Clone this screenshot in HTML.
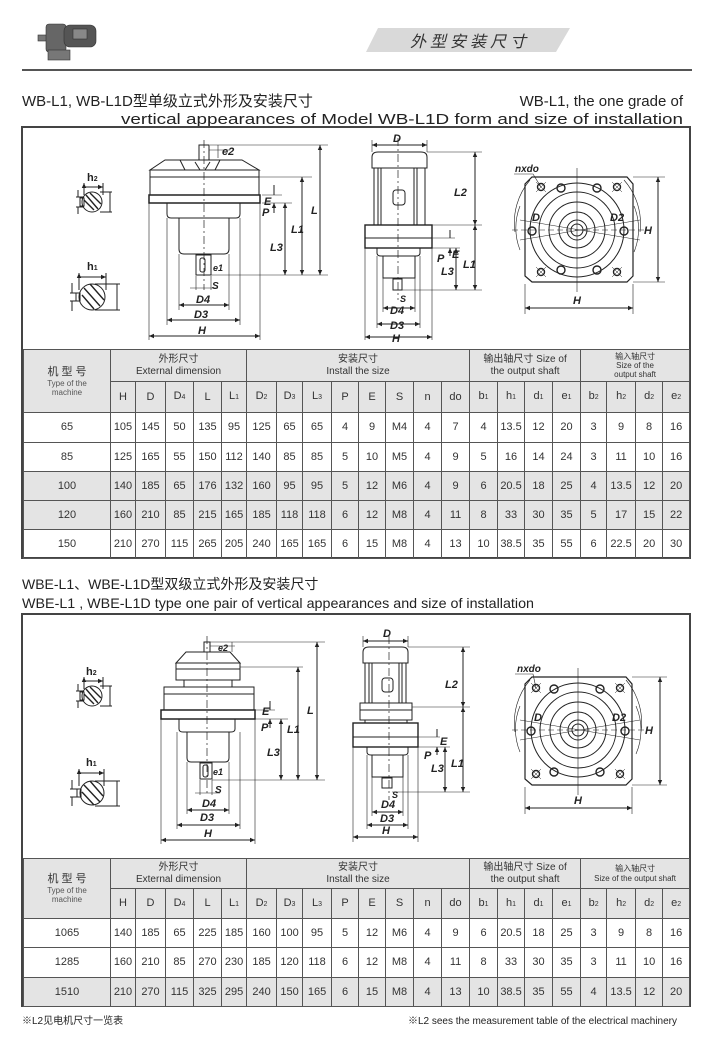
<!DOCTYPE html>
<html><head><meta charset="utf-8">
<style>
html,body{margin:0;padding:0;background:#fff;}
body{width:710px;height:1050px;position:relative;overflow:hidden;font-family:"Liberation Sans","Noto Sans CJK SC",sans-serif;color:#222;}
.abs{position:absolute;}
table{border-collapse:collapse;table-layout:fixed;position:absolute;left:23px;width:666px;font-size:11px;color:#333;}
td{border:1px solid #555;text-align:center;padding:0;line-height:11px;overflow:hidden;white-space:nowrap;}
tr.g td{background:#e4e4e4;}
td.g{background:#e4e4e4;}
.s{font-size:7px;}
.hd{font-size:10px;line-height:12px;}
.tm{font-size:8px;line-height:9px;color:#555;}
</style></head><body>

<!-- header line & pill -->
<div class="abs" style="left:22px;top:69px;width:670px;height:2px;background:#555"></div>
<svg class="abs" style="left:0;top:0" width="710" height="1050" viewBox="0 0 710 1050">
<defs>
<marker id="a" markerWidth="6" markerHeight="6" refX="5" refY="3" orient="auto-start-reverse"><path d="M0,0.8 L5,3 L0,5.2z" fill="#222"/></marker>
</defs>
<!-- motor icon -->
<g fill="#555" stroke="#333" stroke-width="0.6">
<rect x="38" y="35" width="10" height="6" fill="#777"/>
<rect x="46" y="24" width="20" height="28" rx="3" fill="#666"/>
<rect x="64" y="25" width="32" height="22" rx="6" fill="#555"/>
<rect x="48" y="50" width="22" height="10" fill="#777"/>
<rect x="73" y="29" width="14" height="10" fill="#888"/>
</g>
<path d="M378,28 L570,28 L556,52 L366,52 Z" fill="#d9d9d9"/>
<text x="470" y="47" font-size="16" font-style="italic" text-anchor="middle" fill="#333" font-family="Liberation Sans,Noto Sans CJK SC,sans-serif" letter-spacing="4">外型安装尺寸</text>

<!-- titles -->
<g font-family="Liberation Sans,Noto Sans CJK SC,sans-serif" fill="#222" font-size="15">
<text x="22" y="106">WB-L1, WB-L1D型单级立式外形及安装尺寸</text>
<text x="683" y="106" text-anchor="end">WB-L1, the one grade of</text>
<text x="121" y="124" textLength="562" lengthAdjust="spacingAndGlyphs">vertical appearances of Model WB-L1D form and size of installation</text>
<text x="22" y="589" font-size="14">WBE-L1、WBE-L1D型双级立式外形及安装尺寸</text>
<text x="22" y="608" font-size="14" textLength="512" lengthAdjust="spacingAndGlyphs">WBE-L1 , WBE-L1D type one pair of vertical appearances and size of installation</text>
<text x="22" y="1024" font-size="10">※L2见电机尺寸一览表</text>
<text x="677" y="1024" font-size="10" text-anchor="end">※L2 sees the measurement table of the electrical machinery</text>
</g>

<!-- boxes -->
<rect x="22" y="127" width="668" height="431" fill="none" stroke="#444" stroke-width="2"/>
<rect x="22" y="614" width="668" height="392" fill="none" stroke="#444" stroke-width="2"/>

<g fill="none" stroke="#222" stroke-width="1">
<!-- ===== Section 1 shaft sections ===== -->
<circle cx="92" cy="202" r="10"/><path d="M86,195 L98,209 M84,200 L94,210 M90,193 L101,204" stroke-width="1.4"/>
<rect x="80" y="198" width="4" height="8"/>
<path d="M84,183 L84,195 M103,183 L103,195 M84,187 L103,187" marker-start="url(#a)" marker-end="url(#a)"/>
<path d="M76,197 L84,197 M76,207 L84,207 M78,190 L78,197 M78,214 L78,207"/>
<path d="M100,192 L112,192 M100,212 L112,212 M110,192 L110,212"/>
<circle cx="92" cy="297" r="13"/><path d="M84,288 L100,306 M82,295 L94,309 M90,284 L104,300" stroke-width="1.4"/>
<rect x="76" y="293" width="4" height="8"/>
<path d="M79,273 L79,290 M106,273 L106,290 M79,277 L106,277" marker-start="url(#a)" marker-end="url(#a)"/>
<path d="M70,293 L80,293 M70,301 L80,301 M72,283 L72,293 M72,311 L72,301"/>
<path d="M95,284 L120,284 M95,310 L120,310 M117,284 L117,310"/>

<!-- ===== Section 1 main drawing ===== -->
<line x1="204" y1="140" x2="204" y2="290" stroke-dasharray="8,3,2,3" stroke-width="0.7"/>
<rect x="199" y="145" width="10" height="15"/>
<path d="M165,160 L242,160 L259,170 L150,170 Z"/>
<path d="M180,160 L185,170 M220,160 L215,170 M195,162 L200,170 M210,162 L205,170"/>
<rect x="150" y="170" width="109" height="25"/><line x1="150" y1="177" x2="259" y2="177"/>
<rect x="149" y="195" width="111" height="8" stroke-width="1.5"/>
<path d="M167,203 L167,214 Q167,218 171,218 L236,218 Q240,218 240,214 L240,203"/>
<path d="M179,218 L179,249 Q179,254 184,254 L224,254 Q229,254 229,249 L229,218"/>
<rect x="196" y="255" width="15" height="20"/><rect x="200" y="258" width="5" height="14" rx="2"/>
<!-- extension/dim lines -->
<path d="M210,145 L328,145 M259,177 L312,177 M262,195 L282,195 M262,203 L292,203 M211,275 L328,275" stroke-width="0.6"/>
<path d="M209,150 L230,150 M218,145 L218,158" stroke-width="0.6"/>
<line x1="320" y1="145" x2="320" y2="275" marker-start="url(#a)" marker-end="url(#a)"/>
<line x1="302" y1="177" x2="302" y2="275" marker-start="url(#a)" marker-end="url(#a)"/>
<line x1="285" y1="203" x2="285" y2="275" marker-start="url(#a)" marker-end="url(#a)"/>
<path d="M274,185 L274,195 M274,213 L274,203" marker-end="url(#a)"/>
<path d="M179,254 L179,310 M229,254 L229,310 M167,218 L167,325 M240,218 L240,325 M149,203 L149,340 M260,203 L260,340" stroke-width="0.6"/>
<line x1="179" y1="305" x2="229" y2="305" marker-start="url(#a)" marker-end="url(#a)"/>
<line x1="167" y1="320" x2="240" y2="320" marker-start="url(#a)" marker-end="url(#a)"/>
<line x1="149" y1="336" x2="260" y2="336" marker-start="url(#a)" marker-end="url(#a)"/>
<path d="M196,276 L196,290 M211,276 L211,290 M190,288 L218,288" stroke-width="0.6"/>

<!-- ===== Section 1 middle ===== -->
<line x1="398" y1="138" x2="398" y2="300" stroke-dasharray="8,3,2,3" stroke-width="0.7"/>
<path d="M372,168 L372,157 Q372,152 378,152 L421,152 Q427,152 427,157 L427,168 Z"/>
<rect x="374" y="168" width="51" height="57"/>
<path d="M378,168 L378,225 M381,168 L381,225 M414,168 L414,225 M417,168 L417,225"/>
<rect x="393" y="190" width="12" height="15" rx="3"/>
<rect x="365" y="225" width="67" height="23" stroke-width="1.4"/><line x1="365" y1="238" x2="432" y2="238"/>
<path d="M377,248 L377,253 Q377,256 381,256 L416,256 Q420,256 420,253 L420,248"/>
<rect x="383" y="256" width="32" height="22"/>
<rect x="393" y="279" width="9" height="11"/>
<path d="M372,152 L372,140 M427,152 L427,140" stroke-width="0.6"/>
<line x1="372" y1="145" x2="427" y2="145" marker-start="url(#a)" marker-end="url(#a)"/>
<path d="M427,152 L482,152 M432,225 L482,225 M402,290 L482,290 M432,238 L455,238 M420,248 L460,248" stroke-width="0.6"/>
<line x1="475" y1="152" x2="475" y2="225" marker-start="url(#a)" marker-end="url(#a)"/>
<line x1="475" y1="225" x2="475" y2="290" marker-start="url(#a)" marker-end="url(#a)"/>
<line x1="456" y1="248" x2="456" y2="290" marker-start="url(#a)" marker-end="url(#a)"/>
<path d="M450,230 L450,238 M450,256 L450,248" marker-end="url(#a)"/>
<path d="M383,278 L383,312 M415,278 L415,312 M377,256 L377,328 M420,256 L420,328 M365,248 L365,340 M432,248 L432,340" stroke-width="0.6"/>
<line x1="383" y1="308" x2="415" y2="308" marker-start="url(#a)" marker-end="url(#a)"/>
<line x1="377" y1="324" x2="420" y2="324" marker-start="url(#a)" marker-end="url(#a)"/>
<line x1="365" y1="337" x2="432" y2="337" marker-start="url(#a)" marker-end="url(#a)"/>

<!-- ===== Section 1 plan view ===== -->
<path d="M532,177 L627,177 L633,184 L633,276 L627,282 L532,282 L525,276 L525,184 Z" stroke-width="1.2"/>
<line x1="577" y1="168" x2="577" y2="292" stroke-width="0.6"/>
<line x1="512" y1="230" x2="645" y2="230" stroke-width="0.6" stroke-dasharray="6,3"/>
<circle cx="577" cy="230" r="47"/><circle cx="577" cy="230" r="38"/><circle cx="577" cy="230" r="28"/><circle cx="577" cy="230" r="18"/><circle cx="577" cy="230" r="10"/><circle cx="577" cy="230" r="6"/>
<path d="M520,250 A60,60 0 0 1 520,206 M634,206 A60,60 0 0 1 634,252 M530,180 A66,66 0 0 0 515,232 M624,180 A66,66 0 0 1 640,232" stroke-width="0.6"/>
<g stroke-width="1.4">
<circle cx="541" cy="187" r="3.5"/><circle cx="561" cy="188" r="4"/><circle cx="597" cy="188" r="4"/><circle cx="617" cy="187" r="3.5"/>
<circle cx="532" cy="231" r="4"/><circle cx="624" cy="231" r="4"/>
<circle cx="541" cy="272" r="3.5"/><circle cx="561" cy="270" r="4"/><circle cx="597" cy="270" r="4"/><circle cx="617" cy="272" r="3.5"/>
</g>
<path d="M536,182 L546,192 M546,182 L536,192 M612,182 L622,192 M622,182 L612,192 M536,267 L546,277 M546,267 L536,277 M612,267 L622,277 M622,267 L612,277" stroke-width="0.5"/>
<path d="M520,220 L640,240 M520,240 L640,220" stroke-width="0.5"/>
<path d="M514,174 L533,174 L541,187" stroke-width="0.6"/>
<path d="M633,177 L665,177 M633,282 L665,282 M525,284 L525,314 M633,284 L633,314" stroke-width="0.6"/>
<line x1="658" y1="177" x2="658" y2="282" marker-start="url(#a)" marker-end="url(#a)"/>
<line x1="525" y1="308" x2="633" y2="308" marker-start="url(#a)" marker-end="url(#a)"/>

<!-- ===== Section 2 shaft sections ===== -->
<circle cx="92" cy="696" r="10"/><path d="M86,689 L98,703 M84,694 L94,704 M90,687 L101,698" stroke-width="1.4"/>
<rect x="80" y="692" width="4" height="8"/>
<path d="M84,677 L84,689 M103,677 L103,689 M84,681 L103,681" marker-start="url(#a)" marker-end="url(#a)"/>
<path d="M76,691 L84,691 M76,701 L84,701 M78,684 L78,691 M78,708 L78,701"/>
<path d="M100,686 L112,686 M100,706 L112,706 M110,686 L110,706"/>
<circle cx="92" cy="793" r="12"/><path d="M84,785 L100,802 M82,792 L94,805 M90,781 L103,796" stroke-width="1.4"/>
<rect x="77" y="789" width="4" height="8"/>
<path d="M79,769 L79,786 M104,769 L104,786 M79,773 L104,773" marker-start="url(#a)" marker-end="url(#a)"/>
<path d="M70,789 L80,789 M70,797 L80,797 M72,780 L72,789 M72,806 L72,797"/>
<path d="M95,781 L120,781 M95,806 L120,806 M117,781 L117,806"/>

<!-- ===== Section 2 main ===== -->
<line x1="207" y1="636" x2="207" y2="795" stroke-dasharray="8,3,2,3" stroke-width="0.7"/>
<rect x="204" y="642" width="6" height="10"/>
<path d="M186,652 L230,652 L240,663 L176,663 Z"/>
<rect x="176" y="663" width="64" height="17"/><line x1="176" y1="669" x2="240" y2="669"/>
<rect x="184" y="680" width="48" height="7"/>
<rect x="164" y="687" width="90" height="23"/><line x1="164" y1="694" x2="254" y2="694"/>
<rect x="161" y="710" width="94" height="9" stroke-width="1.5"/>
<path d="M179,719 L179,729 Q179,732 183,732 L231,732 Q235,732 235,729 L235,719"/>
<path d="M187,732 L187,758 Q187,762 191,762 L225,762 Q229,762 229,758 L229,732"/>
<rect x="200" y="763" width="12" height="16"/><rect x="203" y="765" width="5" height="12" rx="2"/>
<path d="M210,642 L325,642 M240,667 L303,667 M255,710 L275,710 M255,719 L288,719 M212,780 L325,780 M210,646 L235,646 M232,642 L232,652" stroke-width="0.6"/>
<line x1="317" y1="642" x2="317" y2="780" marker-start="url(#a)" marker-end="url(#a)"/>
<line x1="298" y1="667" x2="298" y2="780" marker-start="url(#a)" marker-end="url(#a)"/>
<line x1="281" y1="719" x2="281" y2="780" marker-start="url(#a)" marker-end="url(#a)"/>
<path d="M270,701 L270,710 M270,728 L270,719" marker-end="url(#a)"/>
<path d="M187,762 L187,814 M229,762 L229,814 M177,732 L177,829 M240,732 L240,829 M161,719 L161,844 M255,719 L255,844" stroke-width="0.6"/>
<line x1="187" y1="810" x2="229" y2="810" marker-start="url(#a)" marker-end="url(#a)"/>
<line x1="177" y1="825" x2="240" y2="825" marker-start="url(#a)" marker-end="url(#a)"/>
<line x1="161" y1="840" x2="255" y2="840" marker-start="url(#a)" marker-end="url(#a)"/>
<path d="M200,780 L200,795 M212,780 L212,795 M195,793 L220,793" stroke-width="0.6"/>

<!-- ===== Section 2 middle ===== -->
<line x1="389" y1="636" x2="389" y2="800" stroke-dasharray="8,3,2,3" stroke-width="0.7"/>
<path d="M363,663 L363,652 Q363,647 369,647 L402,647 Q408,647 408,652 L408,663 Z"/>
<rect x="365" y="663" width="41" height="40"/>
<path d="M369,663 L369,703 M372,663 L372,703 M399,663 L399,703 M402,663 L402,703"/>
<rect x="382" y="678" width="11" height="14" rx="3"/>
<rect x="360" y="703" width="52" height="17"/><line x1="360" y1="710" x2="412" y2="710"/>
<rect x="365" y="720" width="42" height="3"/>
<rect x="353" y="723" width="65" height="24" stroke-width="1.4"/><line x1="353" y1="737" x2="418" y2="737"/>
<path d="M367,747 L367,752 Q367,755 371,755 L404,755 Q408,755 408,752 L408,747"/>
<rect x="372" y="755" width="31" height="22"/>
<rect x="382" y="778" width="10" height="10"/>
<path d="M363,647 L363,636 M408,647 L408,636" stroke-width="0.6"/>
<line x1="363" y1="641" x2="408" y2="641" marker-start="url(#a)" marker-end="url(#a)"/>
<path d="M408,647 L470,647 M412,707 L470,707 M392,792 L470,792 M418,737 L440,737 M408,747 L450,747" stroke-width="0.6"/>
<line x1="463" y1="647" x2="463" y2="707" marker-start="url(#a)" marker-end="url(#a)"/>
<line x1="463" y1="707" x2="463" y2="792" marker-start="url(#a)" marker-end="url(#a)"/>
<line x1="445" y1="747" x2="445" y2="792" marker-start="url(#a)" marker-end="url(#a)"/>
<path d="M437,729 L437,737 M437,755 L437,747" marker-end="url(#a)"/>
<path d="M372,777 L372,816 M403,777 L403,816 M367,755 L367,829 M408,755 L408,829 M353,747 L353,842 M418,747 L418,842" stroke-width="0.6"/>
<line x1="372" y1="812" x2="403" y2="812" marker-start="url(#a)" marker-end="url(#a)"/>
<line x1="367" y1="825" x2="408" y2="825" marker-start="url(#a)" marker-end="url(#a)"/>
<line x1="353" y1="837" x2="418" y2="837" marker-start="url(#a)" marker-end="url(#a)"/>

<!-- ===== Section 2 plan ===== -->
<path d="M532,677 L626,677 L632,684 L632,779 L626,785 L532,785 L525,779 L525,684 Z" stroke-width="1.2"/>
<line x1="578" y1="668" x2="578" y2="795" stroke-width="0.6"/>
<line x1="512" y1="730" x2="645" y2="730" stroke-width="0.6" stroke-dasharray="6,3"/>
<circle cx="578" cy="730" r="47"/><circle cx="578" cy="730" r="38"/><circle cx="578" cy="730" r="28"/><circle cx="578" cy="730" r="18"/><circle cx="578" cy="730" r="10"/><circle cx="578" cy="730" r="6"/>
<path d="M520,752 A60,60 0 0 1 520,706 M636,706 A60,60 0 0 1 636,754 M530,680 A66,66 0 0 0 515,732 M626,680 A66,66 0 0 1 641,732" stroke-width="0.6"/>
<g stroke-width="1.4">
<circle cx="536" cy="688" r="3.5"/><circle cx="554" cy="689" r="4"/><circle cx="600" cy="689" r="4"/><circle cx="620" cy="688" r="3.5"/>
<circle cx="531" cy="731" r="4"/><circle cx="625" cy="731" r="4"/>
<circle cx="536" cy="774" r="3.5"/><circle cx="554" cy="772" r="4"/><circle cx="600" cy="772" r="4"/><circle cx="620" cy="774" r="3.5"/>
</g>
<path d="M531,683 L541,693 M541,683 L531,693 M615,683 L625,693 M625,683 L615,693 M531,769 L541,779 M541,769 L531,779 M615,769 L625,779 M625,769 L615,779" stroke-width="0.5"/>
<path d="M520,720 L640,740 M520,740 L640,720" stroke-width="0.5"/>
<path d="M515,674 L533,674 L536,688" stroke-width="0.6"/>
<path d="M632,677 L667,677 M632,785 L667,785 M525,787 L525,814 M632,787 L632,814" stroke-width="0.6"/>
<line x1="660" y1="677" x2="660" y2="785" marker-start="url(#a)" marker-end="url(#a)"/>
<line x1="525" y1="808" x2="632" y2="808" marker-start="url(#a)" marker-end="url(#a)"/>
</g>

<!-- dimension labels -->
<g font-family="Liberation Sans,sans-serif" font-size="11" font-weight="bold" font-style="italic" fill="#222">
<text x="87" y="181" font-style="normal">h<tspan font-size="7">2</tspan></text>
<text x="87" y="270" font-style="normal">h<tspan font-size="7">1</tspan></text>
<text x="222" y="155">e2</text>
<text x="311" y="214">L</text><text x="291" y="233">L1</text><text x="270" y="251">L3</text>
<text x="264" y="205">E</text><text x="262" y="216">P</text>
<text x="213" y="271" font-size="9">e1</text>
<text x="212" y="289" font-size="10">S</text>
<text x="196" y="303">D4</text><text x="194" y="318">D3</text><text x="198" y="334">H</text>
<text x="393" y="142">D</text><text x="454" y="196">L2</text>
<text x="452" y="258">E</text><text x="437" y="262">P</text><text x="463" y="268">L1</text><text x="441" y="275">L3</text>
<text x="400" y="302" font-size="9">S</text>
<text x="390" y="314">D4</text><text x="390" y="329">D3</text><text x="392" y="342">H</text>
<text x="515" y="172" font-size="10">nxdo</text>
<text x="532" y="221">D</text><text x="610" y="221">D2</text><text x="644" y="234">H</text><text x="573" y="304">H</text>
<text x="86" y="675" font-style="normal">h<tspan font-size="7">2</tspan></text>
<text x="86" y="766" font-style="normal">h<tspan font-size="7">1</tspan></text>
<text x="218" y="651" font-size="9">e2</text>
<text x="307" y="714">L</text><text x="287" y="733">L1</text><text x="267" y="756">L3</text>
<text x="262" y="715">E</text><text x="261" y="731">P</text>
<text x="213" y="775" font-size="9">e1</text><text x="215" y="793" font-size="10">S</text>
<text x="202" y="807">D4</text><text x="200" y="821">D3</text><text x="204" y="837">H</text>
<text x="383" y="637">D</text><text x="445" y="688">L2</text>
<text x="440" y="745">E</text><text x="424" y="759">P</text><text x="451" y="767">L1</text><text x="431" y="772">L3</text>
<text x="392" y="798" font-size="9">S</text>
<text x="381" y="808">D4</text><text x="380" y="822">D3</text><text x="382" y="834">H</text>
<text x="517" y="672" font-size="10">nxdo</text>
<text x="534" y="721">D</text><text x="612" y="721">D2</text><text x="645" y="734">H</text><text x="574" y="804">H</text>
</g>
</svg>

<!-- Table 1 -->
<table style="top:349px;">
<colgroup><col style="width:87px"><col style="width:25px"><col style="width:30px"><col style="width:28px"><col style="width:28px"><col style="width:25px"><col style="width:30px"><col style="width:26px"><col style="width:29px"><col style="width:27px"><col style="width:27px"><col style="width:28px"><col style="width:28px"><col style="width:28px"><col style="width:28px"><col style="width:27px"><col style="width:28px"><col style="width:28px"><col style="width:26px"><col style="width:29px"><col style="width:27px"><col style="width:27px"></colgroup>
<tr class="g" style="height:32px"><td rowspan="2"><div style="font-size:11px;line-height:13px">机 型 号</div><div class="tm">Type of the<br>machine</div></td><td colspan="5" class="hd">外形尺寸<br>External dimension</td><td colspan="8" class="hd">安装尺寸<br>Install the size</td><td colspan="4" class="hd">输出轴尺寸 Size of<br>the output shaft</td><td colspan="4" class="hd" style="font-size:8px;line-height:9px">输入轴尺寸<br>Size of the<br>output shaft</td></tr>
<tr class="g" style="height:31px"><td>H</td><td>D</td><td>D<span class="s">4</span></td><td>L</td><td>L<span class="s">1</span></td><td>D<span class="s">2</span></td><td>D<span class="s">3</span></td><td>L<span class="s">3</span></td><td>P</td><td>E</td><td>S</td><td>n</td><td>do</td><td>b<span class="s">1</span></td><td>h<span class="s">1</span></td><td>d<span class="s">1</span></td><td>e<span class="s">1</span></td><td>b<span class="s">2</span></td><td>h<span class="s">2</span></td><td>d<span class="s">2</span></td><td>e<span class="s">2</span></td></tr>
<tr style="height:30px"><td>65</td><td>105</td><td>145</td><td>50</td><td>135</td><td>95</td><td>125</td><td>65</td><td>65</td><td>4</td><td>9</td><td>M4</td><td>4</td><td>7</td><td>4</td><td>13.5</td><td>12</td><td>20</td><td>3</td><td>9</td><td>8</td><td>16</td></tr>
<tr style="height:29px"><td>85</td><td>125</td><td>165</td><td>55</td><td>150</td><td>112</td><td>140</td><td>85</td><td>85</td><td>5</td><td>10</td><td>M5</td><td>4</td><td>9</td><td>5</td><td>16</td><td>14</td><td>24</td><td>3</td><td>11</td><td>10</td><td>16</td></tr>
<tr class="g" style="height:29px"><td>100</td><td>140</td><td>185</td><td>65</td><td>176</td><td>132</td><td>160</td><td>95</td><td>95</td><td>5</td><td>12</td><td>M6</td><td>4</td><td>9</td><td>6</td><td>20.5</td><td>18</td><td>25</td><td>4</td><td>13.5</td><td>12</td><td>20</td></tr>
<tr class="g" style="height:29px"><td>120</td><td>160</td><td>210</td><td>85</td><td>215</td><td>165</td><td>185</td><td>118</td><td>118</td><td>6</td><td>12</td><td>M8</td><td>4</td><td>11</td><td>8</td><td>33</td><td>30</td><td>35</td><td>5</td><td>17</td><td>15</td><td>22</td></tr>
<tr style="height:29px"><td>150</td><td>210</td><td>270</td><td>115</td><td>265</td><td>205</td><td>240</td><td>165</td><td>165</td><td>6</td><td>15</td><td>M8</td><td>4</td><td>13</td><td>10</td><td>38.5</td><td>35</td><td>55</td><td>6</td><td>22.5</td><td>20</td><td>30</td></tr>
</table>

<!-- Table 2 -->
<table style="top:858px;">
<colgroup><col style="width:87px"><col style="width:25px"><col style="width:30px"><col style="width:28px"><col style="width:28px"><col style="width:25px"><col style="width:30px"><col style="width:26px"><col style="width:29px"><col style="width:27px"><col style="width:27px"><col style="width:28px"><col style="width:28px"><col style="width:28px"><col style="width:28px"><col style="width:27px"><col style="width:28px"><col style="width:28px"><col style="width:26px"><col style="width:29px"><col style="width:27px"><col style="width:27px"></colgroup>
<tr class="g" style="height:30px"><td rowspan="2"><div style="font-size:11px;line-height:13px">机 型 号</div><div class="tm">Type of the<br>machine</div></td><td colspan="5" class="hd">外形尺寸<br>External dimension</td><td colspan="8" class="hd">安装尺寸<br>Install the size</td><td colspan="4" class="hd">输出轴尺寸 Size of<br>the output shaft</td><td colspan="4" class="hd" style="font-size:8px;line-height:10px">输入轴尺寸<br>Size of the output shaft</td></tr>
<tr class="g" style="height:30px"><td>H</td><td>D</td><td>D<span class="s">4</span></td><td>L</td><td>L<span class="s">1</span></td><td>D<span class="s">2</span></td><td>D<span class="s">3</span></td><td>L<span class="s">3</span></td><td>P</td><td>E</td><td>S</td><td>n</td><td>do</td><td>b<span class="s">1</span></td><td>h<span class="s">1</span></td><td>d<span class="s">1</span></td><td>e<span class="s">1</span></td><td>b<span class="s">2</span></td><td>h<span class="s">2</span></td><td>d<span class="s">2</span></td><td>e<span class="s">2</span></td></tr>
<tr style="height:29px"><td>1065</td><td>140</td><td>185</td><td>65</td><td>225</td><td>185</td><td>160</td><td>100</td><td>95</td><td>5</td><td>12</td><td>M6</td><td>4</td><td>9</td><td>6</td><td>20.5</td><td>18</td><td>25</td><td>3</td><td>9</td><td>8</td><td>16</td></tr>
<tr style="height:30px"><td>1285</td><td>160</td><td>210</td><td>85</td><td>270</td><td>230</td><td>185</td><td>120</td><td>118</td><td>6</td><td>12</td><td>M8</td><td>4</td><td>11</td><td>8</td><td>33</td><td>30</td><td>35</td><td>3</td><td>11</td><td>10</td><td>16</td></tr>
<tr class="g" style="height:29px"><td>1510</td><td>210</td><td>270</td><td>115</td><td>325</td><td>295</td><td>240</td><td>150</td><td>165</td><td>6</td><td>15</td><td>M8</td><td>4</td><td>13</td><td>10</td><td>38.5</td><td>35</td><td>55</td><td>4</td><td>13.5</td><td>12</td><td>20</td></tr>
</table>
</body></html>
